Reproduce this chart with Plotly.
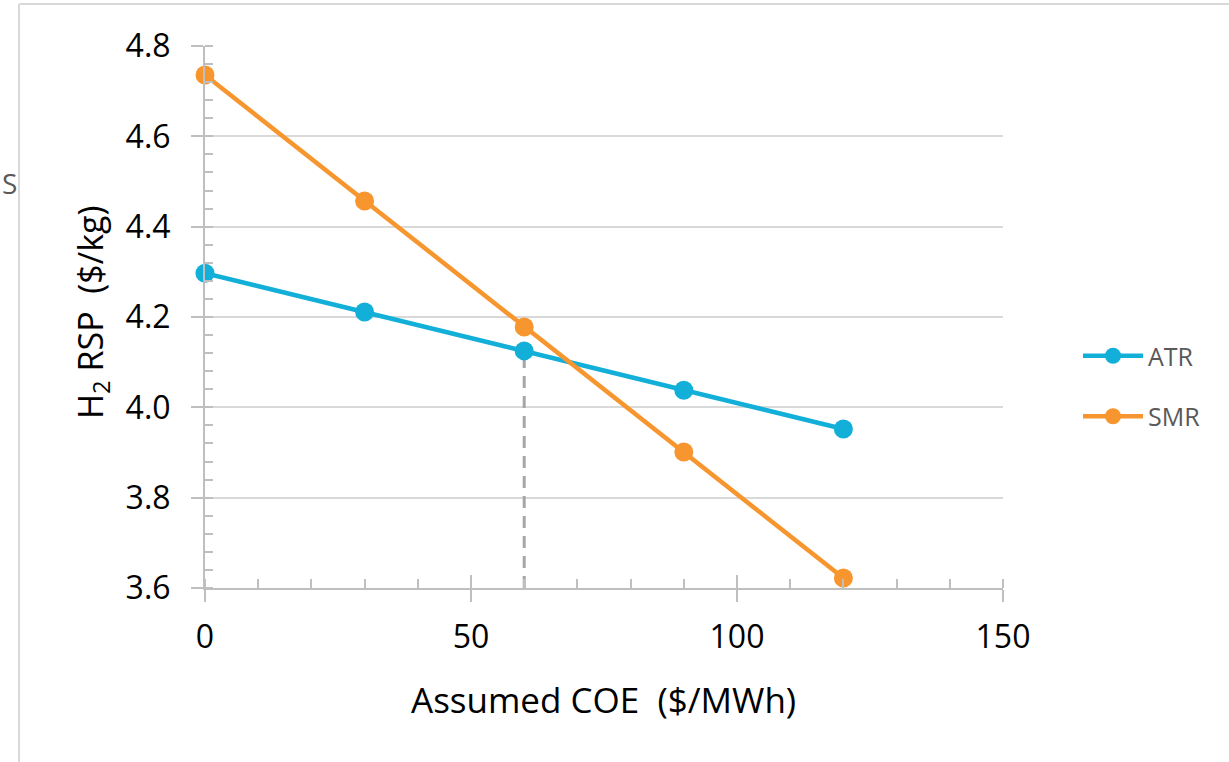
import plotly.graph_objects as go

coe = [0, 30, 60, 90, 120]
atr = [4.297, 4.211, 4.125, 4.038, 3.952]
smr = [4.736, 4.457, 4.178, 3.901, 3.622]
series_names = ["ATR", "SMR"]
ref_x = 60
x_range = [0, 150]
y_range = [3.6, 4.8]

W, H = 1229, 762
L, R, T, B = 205, 1003, 46, 588

def px(xp):
    return (xp - L) / (R - L)

def py(yp):
    return (B - yp) / (B - T)

FONT = "Open Sans"
ATR_C = "#12AFD9"
SMR_C = "#F7962E"

fig = go.Figure()

# dashed reference line at COE = 60 down to the ATR value
fig.add_trace(go.Scatter(
    x=[ref_x, ref_x], y=[y_range[0], atr[coe.index(ref_x)]],
    mode="lines", line=dict(color="#A6A6A6", width=3, dash="12px,8px"),
    showlegend=False, hoverinfo="skip", cliponaxis=False))

fig.add_trace(go.Scatter(
    x=coe, y=atr, name=series_names[0], mode="lines+markers",
    line=dict(color=ATR_C, width=4.5), marker=dict(size=19, color=ATR_C),
    cliponaxis=False, legendgroup="a"))
fig.add_trace(go.Scatter(
    x=coe, y=smr, name=series_names[1], mode="lines+markers",
    line=dict(color=SMR_C, width=4.5), marker=dict(size=19, color=SMR_C),
    cliponaxis=False, legendgroup="b"))

# invisible trace to anchor the overlay x-axis (upper half of crossing ticks)
fig.add_trace(go.Scatter(x=[coe[0]], y=[atr[0]], xaxis="x2", mode="markers",
                         marker=dict(opacity=0), showlegend=False, hoverinfo="skip"))

axis_grey = "#BFBFBF"
fig.update_layout(
    width=W, height=H,
    margin=dict(l=L, r=W - R, t=T, b=H - B),
    paper_bgcolor="white", plot_bgcolor="white",
    font=dict(family=FONT, color="black"),
    xaxis=dict(
        range=x_range, tickvals=[0, 50, 100, 150], ticks="outside", ticklen=12,
        tickwidth=2, tickcolor=axis_grey, showline=True, linecolor=axis_grey,
        linewidth=2, showgrid=False, zeroline=False,
        tickfont=dict(size=32, color="black"), ticklabelstandoff=8,
        minor=dict(dtick=10, ticks="inside", ticklen=9, tickwidth=2, tickcolor=axis_grey, showgrid=False),
    ),
    xaxis2=dict(
        overlaying="x", anchor="y", range=x_range, tickvals=[0, 50, 100, 150],
        ticks="inside", ticklen=13, tickwidth=2, tickcolor=axis_grey,
        showticklabels=False, showline=False, showgrid=False, zeroline=False,
    ),
    yaxis=dict(
        range=y_range, dtick=0.2, tickformat=".1f", ticks="outside", ticklen=12,
        tickwidth=2, tickcolor=axis_grey, showline=True, linecolor=axis_grey,
        linewidth=2, showgrid=True, gridcolor="#D9D9D9", gridwidth=2, zeroline=False,
        tickfont=dict(size=32, color="black"), ticklabelstandoff=14,
        minor=dict(dtick=0.04, ticks="inside", ticklen=8, tickwidth=2, tickcolor=axis_grey, showgrid=False),
    ),
    legend=dict(
        x=px(1078), y=py(386), xanchor="left", yanchor="middle",
        font=dict(size=25, color="#595959", family=FONT),
        tracegroupgap=25, itemwidth=60, bgcolor="rgba(0,0,0,0)",
    ),
    showlegend=True,
)

fig.add_annotation(
    text="Assumed COE\u00a0\u00a0($/MWh)", xref="paper", yref="paper",
    x=px(603), y=py(699), xanchor="center", yanchor="middle",
    showarrow=False, font=dict(size=35, color="black", family=FONT))
fig.add_annotation(
    text="H<sub>2</sub> RSP\u00a0\u00a0($/kg)", xref="paper", yref="paper",
    x=px(92), y=py(312), xanchor="center", yanchor="middle", textangle=-90,
    showarrow=False, font=dict(size=34, color="black", family=FONT))
fig.add_annotation(
    text="S", xref="paper", yref="paper", x=px(0), y=py(183),
    xanchor="left", yanchor="middle", showarrow=False,
    font=dict(size=28, color="#595959", family=FONT))

# outer chart-area frame (left and top edges)
frame = dict(color="#D9D9D9", width=2)
fig.add_shape(type="line", xref="paper", yref="paper",
              x0=px(19), x1=px(19), y0=py(4), y1=py(H + 5), line=frame)
fig.add_shape(type="line", xref="paper", yref="paper",
              x0=px(19), x1=px(W + 5), y0=py(4), y1=py(4), line=frame)

fig.write_html("out.html")
